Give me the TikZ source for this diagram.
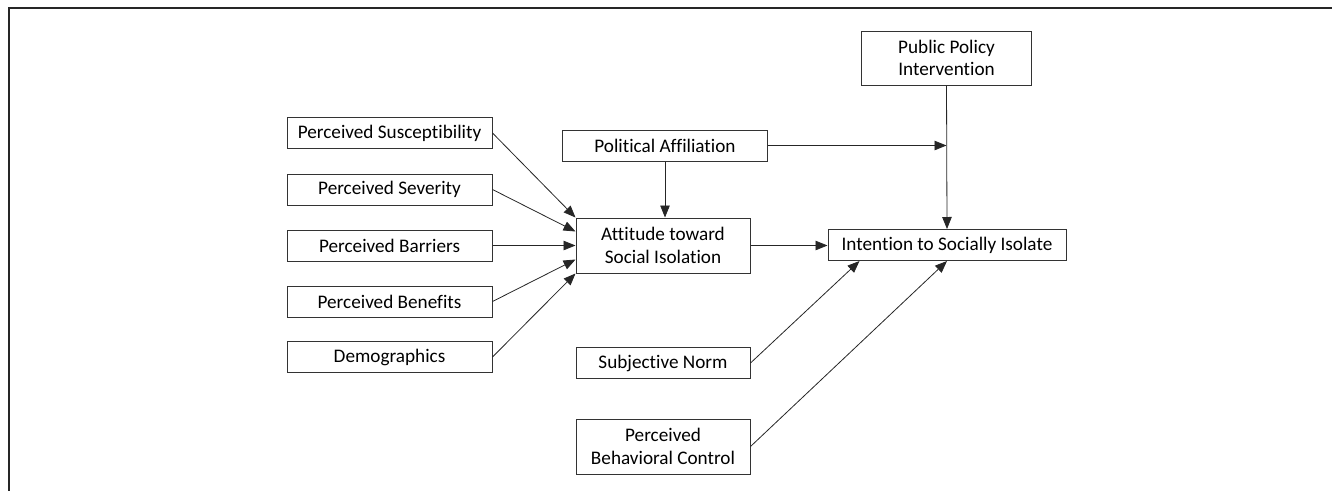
\documentclass[tikz,border=0pt]{standalone}
\usepackage{fontspec}
\setmainfont{Carlito}[Ligatures={NoCommon}]
\usetikzlibrary{arrows.meta,calc}

\tikzset{
  varbox/.style={draw=black!80, line width=1pt, inner sep=0pt, align=center,
    minimum height=31pt, text=black, font=\fontsize{19.2}{22.5}\selectfont},
  path/.style={-{Triangle[length=12pt,width=9.5pt]}, black!85, line width=0.8pt}
}

\begin{document}
\begin{tikzpicture}[x=1pt,y=-1pt]
        \useasboundingbox (0,0) rectangle (1332,491);
        \draw[line width=2pt, black!85] (1332,7.5)--(8.5,7.5)--(8.5,491);

        % constructs on the left
        \node[varbox, minimum width=205pt] (sus) at (389.5,133) {Perceived Susceptibility};
        \node[varbox, minimum width=205pt] (sev) at (389.5,189.5) {Perceived Severity};
        \node[varbox, minimum width=205pt] (bar) at (389.5,245.5) {Perceived Barriers};
        \node[varbox, minimum width=205pt] (ben) at (389.5,301.5) {Perceived Benefits};
        \node[varbox, minimum width=205pt] (dem) at (389.5,357) {Demographics};

        \node[varbox, minimum width=174pt, minimum height=55pt] (att) at (663,245.5) {Attitude toward\\Social Isolation};
        \node[varbox, minimum width=205pt] (pol) at (665,145.5) {Political Affiliation};
        \node[varbox, minimum width=170pt, minimum height=54pt] (pub) at (946.5,58) {Public Policy\\Intervention};
        \node[varbox, minimum width=238pt] (int) at (947,245) {Intention to Socially Isolate};
        \node[varbox, minimum width=174pt] (sub) at (663,363) {Subjective Norm};
        \node[varbox, minimum width=174pt, minimum height=55pt] (pbc) at (663,446.5) {Perceived\\Behavioral Control};

        \coordinate (mod) at (pub.south |- pol.east);
        \coordinate (subend) at ($(int.south west)+(32,0)$);

        \draw[path](sus.east)--(att.north west);
        \draw[path](sev.east)--($(att.north west)!0.25!(att.south west)$);
        \draw[path](bar.east)--(att.west);
        \draw[path](ben.east)--($(att.north west)!0.75!(att.south west)$);
        \draw[path](dem.east)--(att.south west);

        \draw[path](pol.south)--(pol.south |- att.north);
        \draw[path](pol.east)--(mod);
        \draw[path](pub.south)--(int.north);

        \draw[path](att.east)--(att.east -| int.west);
        \draw[path](sub.east)--(subend);
        \draw[path](pbc.east)--(int.south);

    \end{tikzpicture}
\end{document}
